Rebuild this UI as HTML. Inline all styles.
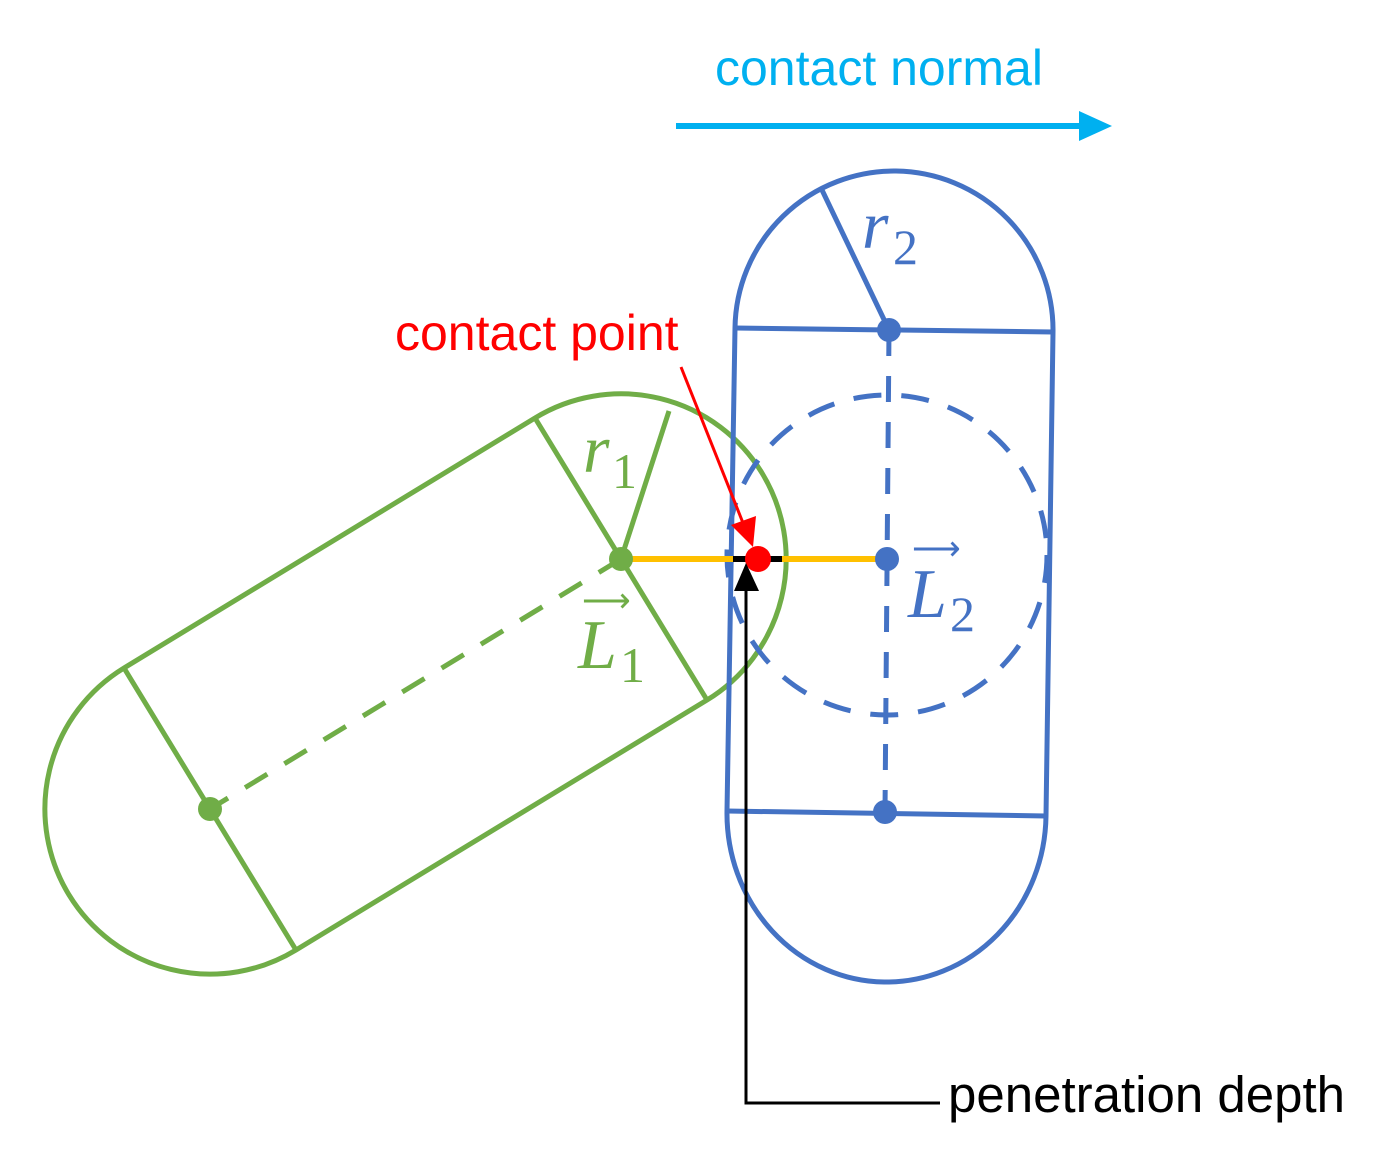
<!DOCTYPE html>
<html><head><meta charset="utf-8"><style>
html,body{margin:0;padding:0;background:#fff;width:1382px;height:1172px;overflow:hidden}
svg{display:block}
.m{font-family:"Liberation Serif",serif;font-style:italic}
.n{font-family:"Liberation Serif",serif}
.s{font-family:"Liberation Sans",sans-serif}
</style></head><body>
<svg width="1382" height="1172" viewBox="0 0 1382 1172" xmlns="http://www.w3.org/2000/svg">
<g fill="none" stroke="#70AD47" stroke-width="5">
<path d="M535,418 L124,668 A164 164 0 0 0 296,950 L707,700 A164 164 0 0 0 535,418"/>
<line x1="535" y1="418" x2="707" y2="700"/>
<line x1="124" y1="668" x2="296" y2="950"/>
<line x1="621" y1="559" x2="669" y2="411"/>
<line x1="621" y1="559" x2="210" y2="809" stroke-dasharray="26 20"/>
</g>
<g fill="none" stroke="#4472C4" stroke-width="5">
<path d="M735,328 A159 159 0 0 1 1053,332 L1046,816 A159 168 0 0 1 727,811 Z"/>
<line x1="735" y1="328" x2="1053" y2="332"/>
<line x1="727" y1="811" x2="1046" y2="816"/>
<line x1="889" y1="330" x2="822" y2="190"/>
<line x1="889" y1="330" x2="885" y2="812" stroke-dasharray="26 20"/>
<circle cx="887" cy="555" r="160" stroke-dasharray="28 20"/>
</g>
<line x1="621" y1="559" x2="887" y2="559" stroke="#FFC000" stroke-width="6"/>
<line x1="733" y1="559" x2="782" y2="559" stroke="#000" stroke-width="6"/>
<circle cx="621" cy="559" r="12" fill="#70AD47"/>
<circle cx="210" cy="809" r="12" fill="#70AD47"/>
<circle cx="889" cy="330" r="12" fill="#4472C4"/>
<circle cx="885" cy="812" r="12" fill="#4472C4"/>
<circle cx="887" cy="559" r="12" fill="#4472C4"/>
<circle cx="758" cy="559" r="13" fill="#f00"/>
<line x1="681" y1="367" x2="745" y2="528" stroke="#f00" stroke-width="3"/>
<polygon points="753,547 731,525 756,516" fill="#f00"/>
<polyline points="940,1103 746,1103 746,588" fill="none" stroke="#000" stroke-width="3"/>
<polygon points="746,563 734,591 759,591" fill="#000"/>
<line x1="676" y1="126" x2="1082" y2="126" stroke="#00B0F0" stroke-width="6"/>
<polygon points="1112,126 1079,111 1079,141" fill="#00B0F0"/>
<text x="715" y="85" class="s" font-size="50" fill="#00B0F0">contact normal</text>
<text x="395" y="350" class="s" font-size="50" fill="#f00">contact point</text>
<text x="948" y="1112" class="s" font-size="51" fill="#000">penetration depth</text>
<text x="583" y="472" class="m" font-size="68" fill="#70AD47">r</text>
<text x="612" y="488" class="n" font-size="50" fill="#70AD47">1</text>
<text x="862" y="248" class="m" font-size="68" fill="#4472C4">r</text>
<text x="893" y="264" class="n" font-size="50" fill="#4472C4">2</text>
<text x="578" y="668" class="m" font-size="70" fill="#70AD47">L</text>
<text x="620" y="682" class="n" font-size="50" fill="#70AD47">1</text>
<text x="582" y="612" class="s" font-size="34" fill="#70AD47">⟶</text>
<text x="908" y="617" class="m" font-size="70" fill="#4472C4">L</text>
<text x="950" y="631" class="n" font-size="50" fill="#4472C4">2</text>
<text x="912" y="560" class="s" font-size="34" fill="#4472C4">⟶</text>
</svg>
</body></html>
